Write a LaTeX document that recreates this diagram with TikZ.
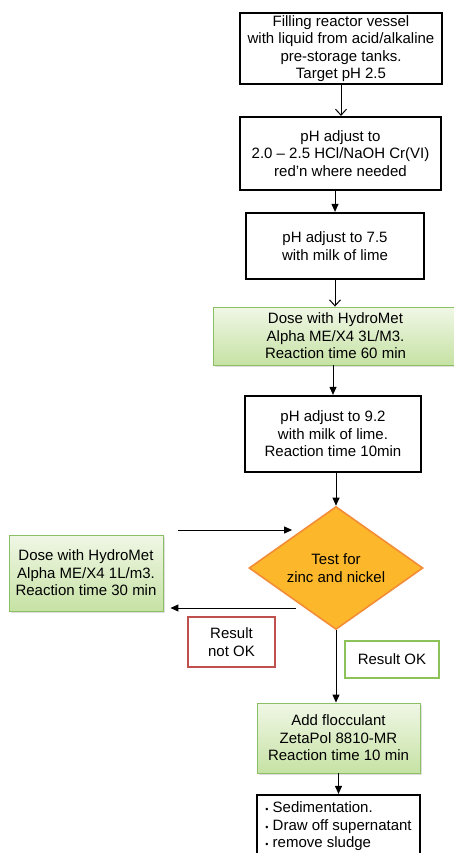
\documentclass[tikz,border=0pt]{standalone}
\usepackage{fontspec}
\setmainfont{Liberation Sans}
\usetikzlibrary{shapes.geometric,arrows.meta,shadows}
\definecolor{dosegreen}{HTML}{8CBF63}
\definecolor{dosetop}{HTML}{F0F7E6}
\definecolor{dosebot}{HTML}{C6E2A4}
\definecolor{testfill}{HTML}{FCB72B}
\definecolor{testline}{HTML}{F28C38}
\definecolor{notokred}{HTML}{C0504D}
\definecolor{okgreen}{HTML}{8CC25A}
\begin{document}
\begin{tikzpicture}[x=1pt,y=-1pt,
	every node/.style={font=\fontsize{15}{17.5}\selectfont,align=center,inner sep=0pt},
	proc/.style={draw,line width=2.2pt,fill=white},
	dose/.style={draw=dosegreen,line width=0.9pt,top color=dosetop,bottom color=dosebot,drop shadow={opacity=0.25,shadow xshift=1.5pt,shadow yshift=-1.5pt}},
	test/.style={diamond,aspect=1.41,draw=testline,line width=1.6pt,fill=testfill,minimum width=174pt,minimum height=123pt},
	result/.style={draw,line width=1.6pt,fill=white},
	openarr/.style={-{Straight Barb[length=6pt,width=11pt]},line width=1pt},
	fillarr/.style={-{Triangle[length=8pt,width=7pt]},line width=1pt}]
	\useasboundingbox (0,0) rectangle (454,853);
	\clip (0,0) rectangle (454,853);
	% main column
	\node[proc,minimum width=202pt,minimum height=71pt] (fill) at (341,48.5) {Filling reactor vessel\\with liquid from acid/alkaline\\pre-storage tanks.\\Target pH 2.5};
	\node[proc,minimum width=201pt,minimum height=73pt] (acid) at (340.5,153.5) {pH adjust to\\2.0 -- 2.5 HCl/NaOH Cr(VI)\\red'n where needed};
	\node[proc,minimum width=178pt,minimum height=66pt] (lime) at (335,246) {pH adjust to 7.5\\with milk of lime};
	\node[dose,minimum width=245pt,minimum height=58pt] (doseA) at (335.5,336) {Dose with HydroMet\\Alpha ME/X4 3L/M3.\\Reaction time 60 min};
	\node[proc,minimum width=176pt,minimum height=76pt] (limeB) at (333,434) {pH adjust to 9.2\\with milk of lime.\\Reaction time 10min};
	\node[test] (zn) at (336,568) {Test for\\zinc and nickel};
	\node[dose,minimum width=154pt,minimum height=76pt] (doseB) at (86,573) {Dose with HydroMet\\Alpha ME/X4 1L/m3.\\Reaction time 30 min};
	\node[result,draw=notokred,minimum width=87pt,minimum height=50pt] (notok) at (231.5,642) {Result\\not OK};
	\node[result,draw=okgreen,minimum width=94pt,minimum height=37pt] (ok) at (392,659.5) {Result OK};
	\node[dose,minimum width=163pt,minimum height=70pt] (floc) at (338.5,738) {Add flocculant\\ZetaPol 8810-MR\\Reaction time 10 min};
	\node[proc,minimum width=163pt,minimum height=63pt,align=left] (sedi) at (338.5,826.5) {{\small\textbullet} Sedimentation.\\{\small\textbullet} Draw off supernatant\\{\small\textbullet} remove sludge};
	% loop back
	\coordinate (back) at (178,530);\coordinate (fail) at (296,608);
	% connectors
	\draw[openarr] (fill.south) -- (fill.south |- acid.north);
	\draw[fillarr] (lime.north |- acid.south) -- (lime.north);
	\draw[openarr] (lime.south) -- (lime.south |- doseA.north);
	\draw[fillarr] (limeB.north |- doseA.south) -- (limeB.north);
	\draw[fillarr] (zn.north |- limeB.south) -- (zn.north);
	\draw[fillarr] (back) -- (back -| zn.north west);
	\draw[fillarr,shorten >=7pt] (fail) -- (fail -| doseB.east);
	\draw[fillarr] (zn.south) -- (zn.south |- floc.north);
	\draw[fillarr] (floc.south) -- (sedi.north);
\end{tikzpicture}
\end{document}
